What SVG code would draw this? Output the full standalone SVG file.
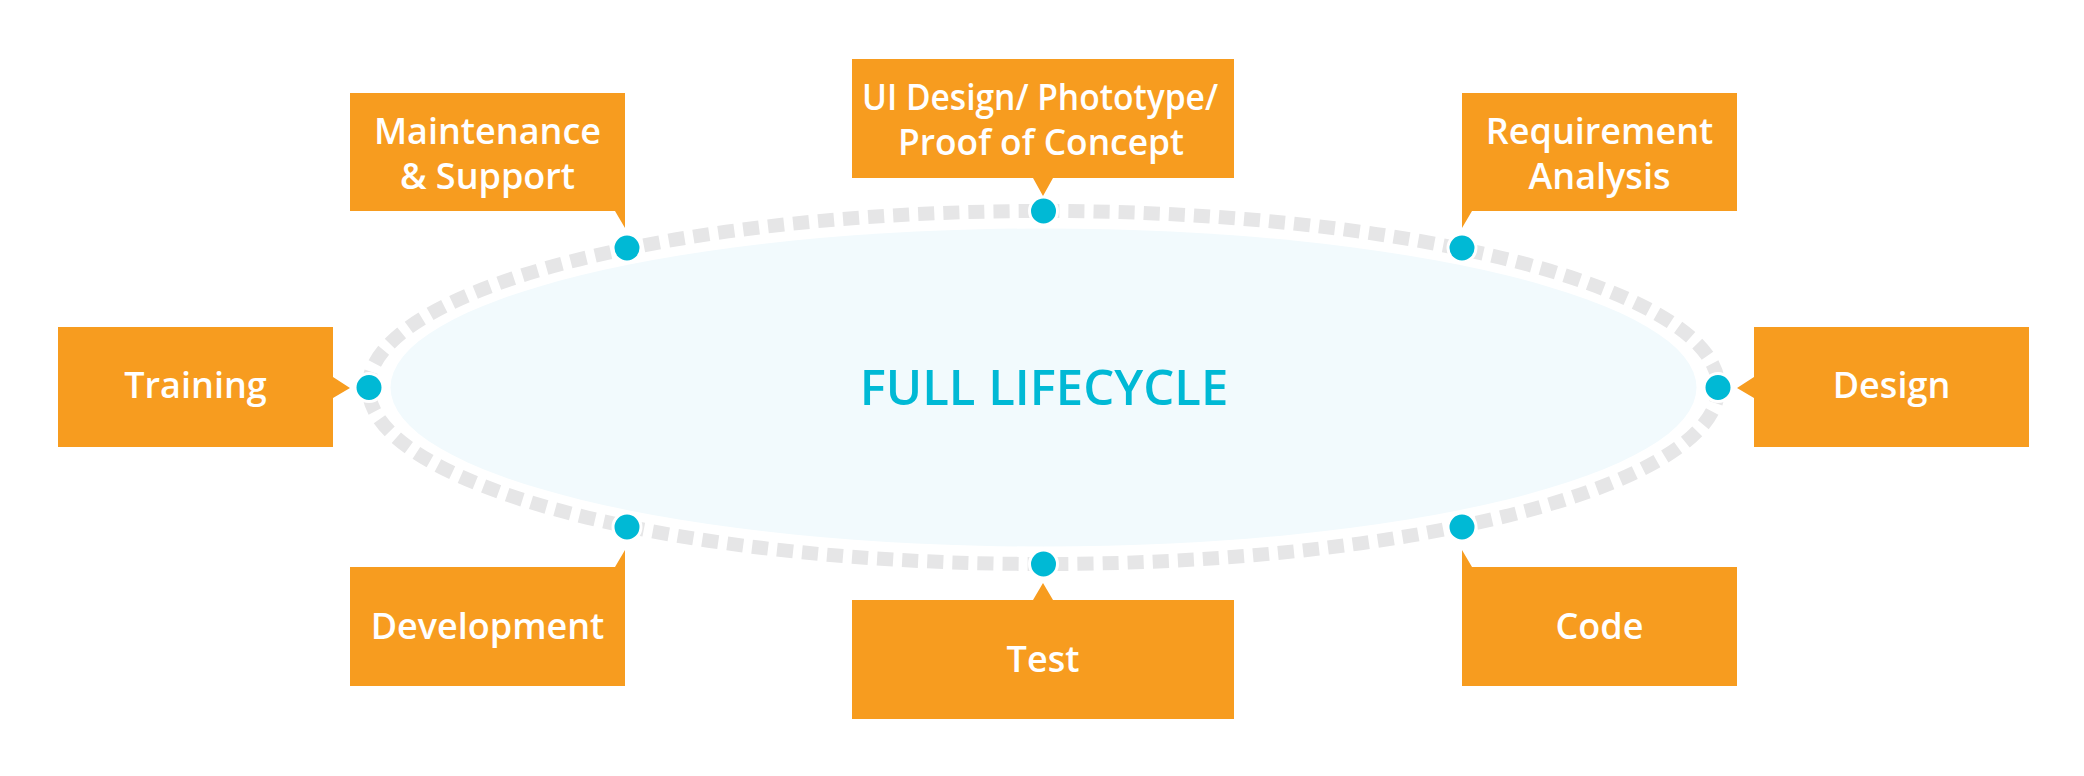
<svg xmlns="http://www.w3.org/2000/svg" width="2084" height="776" viewBox="0 0 2084 776">
  <style>
    .box { fill: #f79c1f; }
    .lbl { font-family: "Open Sans", "Liberation Sans", sans-serif; font-weight: 600; font-size: 36px; fill: #ffffff; text-anchor: middle; }
    .title { font-family: "Open Sans", "Liberation Sans", sans-serif; font-weight: 600; font-size: 49px; fill: #00b9d5; text-anchor: middle; }
    .dot { fill: #00b9d5; stroke: #ffffff; stroke-width: 3; }
  </style>
  <rect x="0" y="0" width="2084" height="776" fill="#ffffff"/>
  <g id="center">
    <ellipse cx="1043.5" cy="387.5" rx="653" ry="159" fill="#f2fafd"/>
    <text class="title" x="1044" y="405">FULL LIFECYCLE</text>
  </g>
  <g id="connectors">
    <ellipse cx="1043.5" cy="387.5" rx="675" ry="176.5" fill="none" stroke="#e6e6e7" stroke-width="14" pathLength="2900" stroke-dasharray="16 9"/>
    <circle class="dot" cx="369" cy="387.5" r="14"/>
    <circle class="dot" cx="627" cy="248" r="14"/>
    <circle class="dot" cx="1043.5" cy="211" r="14"/>
    <circle class="dot" cx="1462" cy="248" r="14"/>
    <circle class="dot" cx="1718" cy="387.5" r="14"/>
    <circle class="dot" cx="1462" cy="527" r="14"/>
    <circle class="dot" cx="1043.5" cy="564" r="14"/>
    <circle class="dot" cx="627" cy="527" r="14"/>
  </g>
  <g id="maintenance">
    <path class="box" d="M350 93 H625 V228 L615 211 H350 Z"/>
    <text class="lbl" x="487.5" y="144">Maintenance</text>
    <text class="lbl" x="487.5" y="189">&amp; Support</text>
  </g>
  <g id="ui-design">
    <path class="box" d="M852 59 H1234 V178 H1053 L1043 196 L1033 178 H852 Z"/>
    <text class="lbl" x="1040" y="110" textLength="356" lengthAdjust="spacingAndGlyphs">UI Design/ Phototype/</text>
    <text class="lbl" x="1041" y="155" textLength="286" lengthAdjust="spacingAndGlyphs">Proof of Concept</text>
  </g>
  <g id="requirement">
    <path class="box" d="M1462 93 H1737 V211 H1472 L1462 228 Z"/>
    <text class="lbl" x="1599.5" y="144">Requirement</text>
    <text class="lbl" x="1599.5" y="189">Analysis</text>
  </g>
  <g id="training">
    <path class="box" d="M58 327 H333 V377 L350 388 L333 398 V447 H58 Z"/>
    <text class="lbl" x="195.5" y="398">Training</text>
  </g>
  <g id="design">
    <path class="box" d="M1754 327 H2029 V447 H1754 V398 L1737 388 L1754 377 Z"/>
    <text class="lbl" x="1891.5" y="398">Design</text>
  </g>
  <g id="development">
    <path class="box" d="M350 567 H615 L625 550 V686 H350 Z"/>
    <text class="lbl" x="487.5" y="639">Development</text>
  </g>
  <g id="test">
    <path class="box" d="M852 600 H1033 L1043 583 L1053 600 H1234 V719 H852 Z"/>
    <text class="lbl" x="1043" y="672">Test</text>
  </g>
  <g id="code">
    <path class="box" d="M1462 550 L1472 567 H1737 V686 H1462 Z"/>
    <text class="lbl" x="1599.5" y="639">Code</text>
  </g>
</svg>
